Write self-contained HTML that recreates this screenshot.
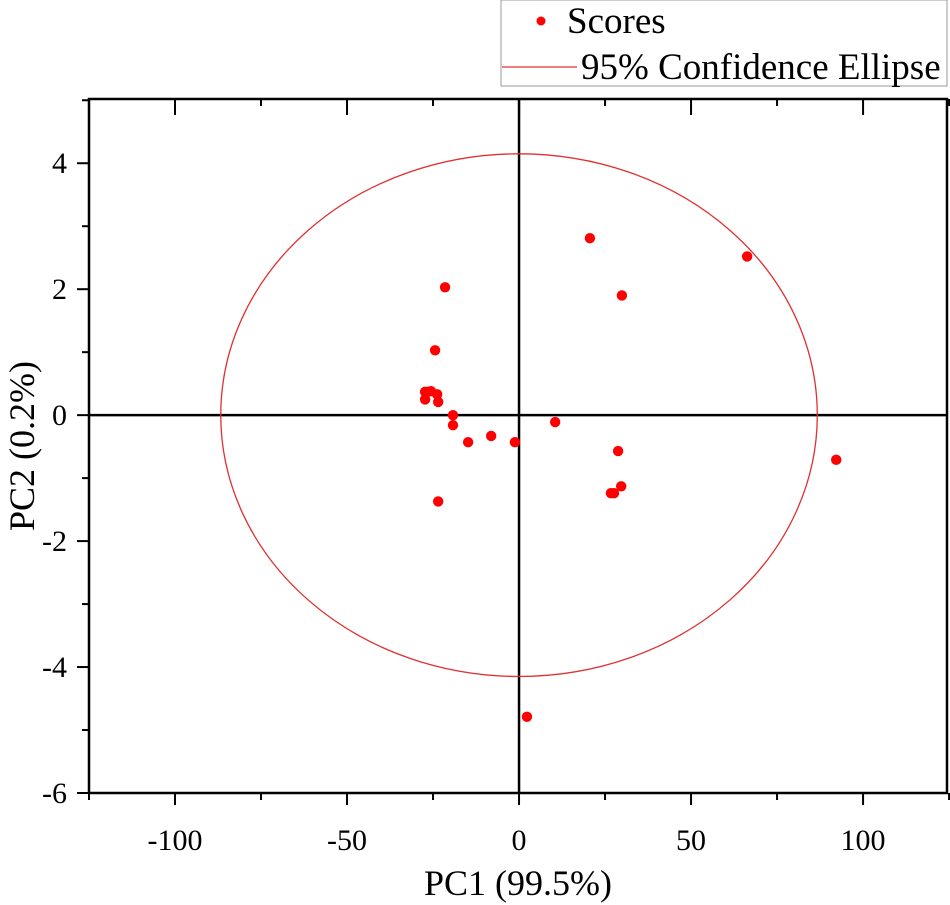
<!DOCTYPE html>
<html><head><meta charset="utf-8"><style>
body{margin:0;background:#fff}
svg{display:block;font-family:"Liberation Serif",serif}
</style></head><body>
<svg id="c" width="950" height="905" xmlns="http://www.w3.org/2000/svg"></svg>
<script>
const pc1 = [20.6,66.3,29.9,-21.5,-24.4,-26.5,-25.6,-23.8,-27.3,-23.5,-27.3,-19.2,-19.2,-14.8,-8.1,-1.2,10.5,28.8,26.7,27.6,29.7,-23.5,92.2,2.3];
const pc2 = [2.81,2.52,1.90,2.03,1.03,0.37,0.38,0.33,0.25,0.21,0.37,0.0,-0.16,-0.43,-0.33,-0.43,-0.11,-0.57,-1.24,-1.24,-1.13,-1.37,-0.71,-4.79];
const xTicks = [-100,-50,0,50,100];
const yTicks = [-6,-4,-2,0,2,4];
const ellipseRx = 86.7, ellipseRy = 4.15;
const L=89,R=947,T=99,B=793, xmin=-125,xmax=124.4,ymin=-6,ymax=5.02;
const sx=v=>L+(v-xmin)/(xmax-xmin)*(R-L);
const sy=v=>B-(v-ymin)/(ymax-ymin)*(B-T);
const svg=document.getElementById('c');
const NS='http://www.w3.org/2000/svg';
function mk(t,a,p){const e=document.createElementNS(NS,t);for(const k in a)e.setAttribute(k,a[k]);(p||svg).appendChild(e);return e;}
let e;
e=mk('rect',{x:L,y:T,width:R-L,height:B-T,fill:'none',stroke:'#000','stroke-width':2.5});


e=mk('line',{x1:sx(0),x2:sx(0),y1:T,y2:B,stroke:'#000','stroke-width':2.5});


e=mk('line',{x1:L,x2:R,y1:sy(0),y2:sy(0),stroke:'#000','stroke-width':2.5});


for(let v=-125;v<=125;v+=25){const x=sx(v);const maj=v%50===0;
 mk('line',{x1:x,x2:x,y1:B,y2:B+(maj?12:7),stroke:'#000','stroke-width':2});
 mk('line',{x1:x,x2:x,y1:T,y2:T+(maj?16:7),stroke:'#000','stroke-width':2});}
xTicks.forEach(v=>{e=mk('text',{x:sx(v),y:B+57,'text-anchor':'middle','font-size':30});e.textContent=v;

});
for(let v=-6;v<=5;v+=1){const y=sy(v);const maj=v%2===0;
 mk('line',{x1:L,x2:L-(maj?12:7),y1:y,y2:y,stroke:'#000','stroke-width':2});}
yTicks.forEach(v=>{e=mk('text',{x:L-22,y:sy(v)+10,'text-anchor':'end','font-size':30});e.textContent=v;

});
e=mk('text',{x:518,y:895,'text-anchor':'middle','font-size':36});e.textContent='PC1 (99.5%)';


e=mk('text',{x:0,y:0,'text-anchor':'middle','font-size':36,transform:'translate(34,446) rotate(-90)'});e.textContent='PC2 (0.2%)';


e=mk('ellipse',{cx:sx(0),cy:sy(0),rx:sx(ellipseRx)-sx(0),ry:sy(0)-sy(ellipseRy),fill:'none',stroke:'#e03030','stroke-width':1.3});


pc1.forEach((v,i)=>{e=mk('circle',{cx:sx(v),cy:sy(pc2[i]),r:5.2,fill:'#f00'});

});
const g=mk('g',{});


mk('rect',{x:501,y:0,width:446,height:86,fill:'#fff',stroke:'#999','stroke-width':1},g);
e=mk('circle',{cx:541,cy:21,r:4.5,fill:'#f00'},g);


e=mk('text',{x:567,y:33,'font-size':37},g);e.textContent='Scores';


e=mk('line',{x1:502,x2:577,y1:67,y2:67,stroke:'#e03030','stroke-width':1.3},g);


e=mk('text',{x:581,y:79,'font-size':37},g);e.textContent='95% Confidence Ellipse';


</script>
</body></html>
